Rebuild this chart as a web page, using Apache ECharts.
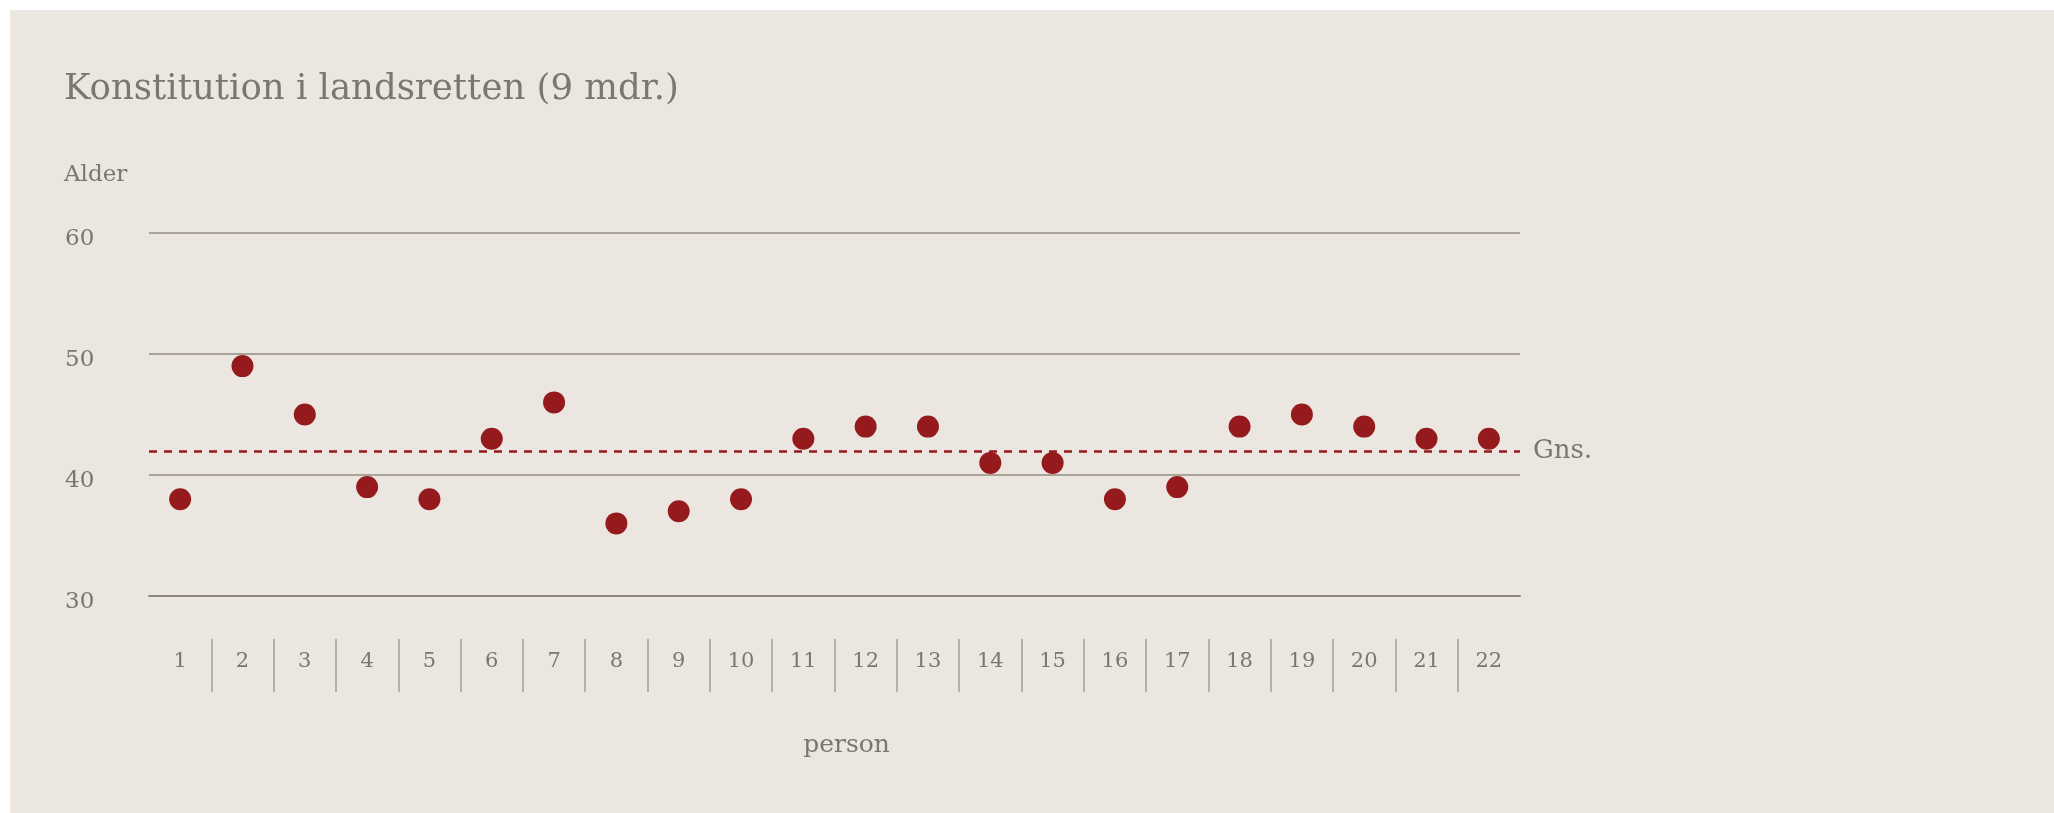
<!DOCTYPE html>
<html>
<head>
<meta charset="utf-8">
<script src="https://cdn.jsdelivr.net/npm/echarts@6/dist/echarts.min.js"></script>
<style>
  html, body { margin: 0; padding: 0; background: #fff; }
  #chart { position: absolute; left: 10px; top: 10px; width: 2044px; height: 803px; }
</style>
</head>
<body>
<div id="chart"></div>
<script>
// personer 1..22 og deres alder ved konstitution
const personer = ['1','2','3','4','5','6','7','8','9','10','11','12','13','14','15','16','17','18','19','20','21','22'];
const alder = [38, 49, 45, 39, 38, 43, 46, 36, 37, 38, 43, 44, 44, 41, 41, 38, 39, 44, 45, 44, 43, 43];
const gns = 42;
const yTicks = [30, 40, 50, 60];

const font = 'DejaVu Serif';
const txt = '#7b776c';
const rod = '#951a1d';

const chart = echarts.init(document.getElementById('chart'));
chart.setOption({
    backgroundColor: '#ebe6e0',
    animation: false,
    textStyle: { fontFamily: font, color: txt },
    title: [
        { text: 'Konstitution i landsretten (9 mdr.)', left: 49, top: 57,
          textStyle: { fontFamily: font, fontSize: 35.5, fontWeight: 'normal', color: txt } },
        { text: 'Alder', left: 49, top: 149,
          textStyle: { fontFamily: font, fontSize: 23, fontWeight: 'normal', color: txt } }
    ],
    grid: [
        { left: 139, right: 534, top: 223, bottom: 217 },
        { left: 139, right: 534, top: 629, height: 53 }
    ],
    xAxis: [
        { type: 'category', gridIndex: 0, data: personer, boundaryGap: true,
          axisLine: { show: true, lineStyle: { color: '#8e887c', width: 2 } },
          axisTick: { show: false },
          axisLabel: { margin: 55, fontSize: 21, color: txt, fontFamily: font },
          name: 'person', nameLocation: 'middle', nameGap: 137,
          nameTextStyle: { fontSize: 25, color: txt, fontFamily: font, padding: [0, 0, 0, 24] } },
        { type: 'category', gridIndex: 1, data: personer, boundaryGap: true,
          axisLine: { show: false }, axisTick: { show: false }, axisLabel: { show: false },
          splitLine: { show: true, showMinLine: false, showMaxLine: false,
                       lineStyle: { color: '#a39d93', width: 1.5 } } }
    ],
    yAxis: [
        { type: 'value', gridIndex: 0, min: 30, max: 60, interval: 10,
          axisLine: { show: false }, axisTick: { show: false },
          axisLabel: { align: 'left', verticalAlign: 'top', lineHeight: 12, margin: 84,
                       fontSize: 23, color: txt, fontFamily: font,
                       formatter: v => yTicks.includes(v) ? String(v) : '' },
          splitLine: { lineStyle: { color: '#aaa398', width: 2 } } },
        { type: 'value', gridIndex: 1, show: false }
    ],
    series: [{
        type: 'scatter', xAxisIndex: 0, yAxisIndex: 0,
        data: alder, symbolSize: 22,
        itemStyle: { color: rod, opacity: 1 },
        markLine: {
            silent: true, symbol: 'none',
            lineStyle: { color: rod, type: [8, 7], width: 2.5 },
            label: { show: true, position: 'end', formatter: 'Gns.', distance: 13,
                     fontSize: 26, color: txt, fontFamily: font, padding: [6, 0, 0, 0] },
            data: [{ yAxis: gns }]
        }
    }]
});
</script>
</body>
</html>
